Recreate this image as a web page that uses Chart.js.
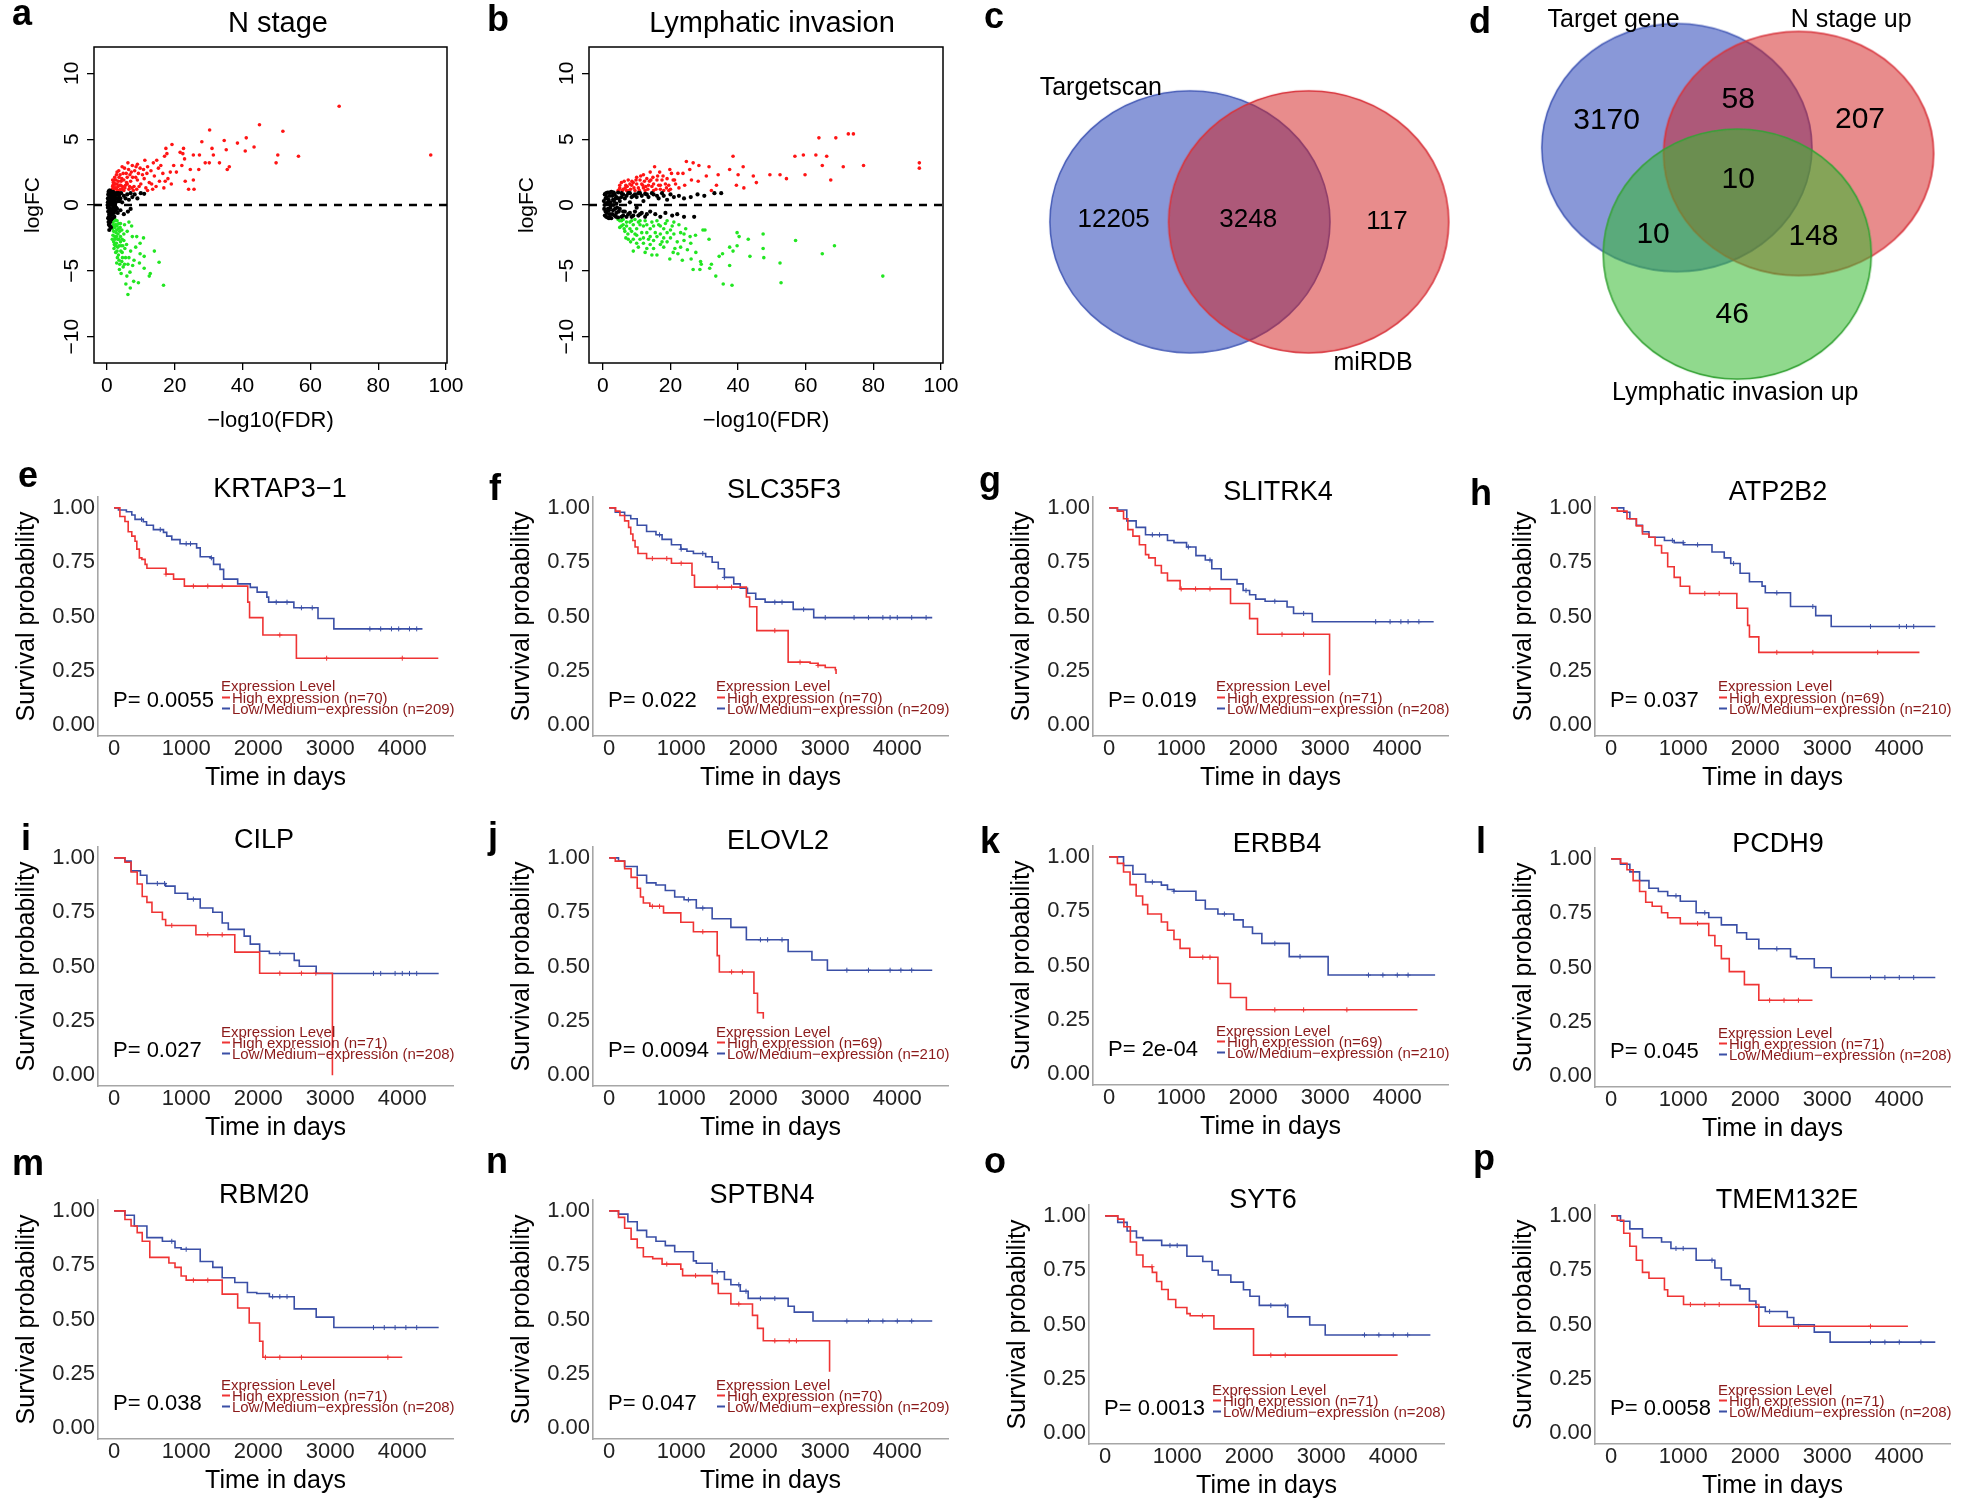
<!DOCTYPE html>
<html>
<head>
<meta charset="utf-8">
<script src="https://cdn.jsdelivr.net/npm/chart.js@4/dist/chart.umd.min.js"></script>
<style>
  body { margin: 0; background: #fff; }
  #fig { position: relative; width: 1961px; height: 1503px; overflow: hidden;
         font-family: "Liberation Sans", Arial, Helvetica, sans-serif; color: #000; }
  #fig canvas { position: absolute; }
  .lab { position: absolute; font-weight: bold; font-size: 36px; line-height: 36px; }
  .ttl { position: absolute; font-size: 27px; line-height: 27px; white-space: nowrap; transform: translate(-50%, -50%); }
  .vttl { position: absolute; font-size: 29px; line-height: 29px; white-space: nowrap; transform: translate(-50%, -50%); }
  .pv  { position: absolute; font-size: 22px; line-height: 22px; white-space: nowrap; transform: translateY(-50%); }
  .lg  { position: absolute; font-size: 15px; line-height: 15px; white-space: nowrap; color: #8b1a1a; transform: translateY(-50%); }
  .key { display: inline-block; width: 8px; height: 2px; margin-right: 2px; vertical-align: middle; position: relative; top: -1px; }
</style>
</head>
<body>
<div id="fig"></div>
<script>
// ---------- volcano data (x = -log10(FDR), y = logFC) ----------
const volTicksX = [0, 20, 40, 60, 80, 100];
const volTicksY = [-10, -5, 0, 5, 10];

const nStageUp = [[68.5,7.5],[95.5,3.8],[45,6.1],[51.9,5.6],[30.3,5.7],[56.5,3.7],[50.4,3.8],[49.9,3.2],[41.1,5.1],[40.8,4.1],
  [43.4,4.4],[38.5,4.7],[34.6,4.9],[35.2,4.2],[31,4.3],[31.4,3.8],[33.2,3.2],[36.1,2.9],[35.5,2.7],[28,4.8],[27.3,3.8],[29,3.2],
  [30.2,3.2],[27.1,2.7],[25.5,3.8],[24.6,2.7],[25.5,1.9],[24.1,1.2],[25.7,1.2],[22.6,4.3],[22.4,3.9],[22.9,3.5],[21.6,4],[22.1,3],
  [23.1,1.8],[19.2,4.6],[17.4,4.3],[17.7,3.9],[19.7,3],[18.7,2.5],[20.5,2.5],[17,3.7],[14.7,3.4],[15.9,3],[13.7,3.2],[15.2,2.8],
  [16.5,2.4],[18,2],[19,1.6],[14,2.2],[13,2.6],[12,2.9],[11.2,3.4],[10.5,2.3],[12.5,1.7],[14.5,1.4],[11.5,1.3],[9.8,2.8],[9,3.1],
  [8.2,2.6],[7.5,3],[6.8,2.3],[10,1.6],[9,1.9],[8,1.4],[7,1.8],[6,2.1],[5.5,1.5],[4.8,2.4],[4.2,1.8],[3.6,2.1],[3,1.6],[2.6,1.3],
  [2.2,1.9],[1.8,1.5],[1.6,1.2],[2,1.1],[3.2,1.1],[4,1.2],[5,1.1],[6.5,1.2],[7.8,1.1],[3.5,2.6],[5.2,2.8],[6.2,3.2],[2.8,2.3],
  [4.5,2.9],[8.5,2.1],[7.2,2.5],[11,2],[12,1.1],[13.5,1.2],[16.8,1.3],[2.4,1.6],[3.8,1.5],[5.8,1.7],[1.9,1.7],[4.6,1.4],
  [1.7,1.4],[2.1,1.3],[2.5,1.6],[2.9,1.2],[3.3,1.4],[3.7,1.1],[4.1,1.5],[4.5,1.2],[5.3,1.3],[6,1.6],[6.7,1.4],[7.4,1.3],[8.8,1.2],
  [9.5,1.4],[2.3,2.1],[3,2.5],[3.9,2.3],[4.4,2],[5,1.9],[5.7,2.4],[6.4,2.7],[7.6,2.1],[8.6,2.9],[9.3,2.4],[10.8,2.7],[11.8,2.4],
  [13.2,1.6],[15.5,1.8],[17.2,1.8],[1.7,1.9],[2.7,1.9],[3.4,1.8]];
const nStageDown = [[16.7,-6.1],[15.4,-4.35],[14,-3.5],[12.8,-5.2],[12.5,-5.4],[11,-4.8],[11,-3.9],[10.8,-2.5],[9.8,-2.9],[9.8,-3.7],
  [9.3,-5.9],[7.9,-5.8],[6.2,-6.8],[6.9,-6.3],[8.5,-3.2],[8,-4.2],[7.5,-2.4],[7,-3.5],[6.8,-5.1],[6.2,-4.5],[5.9,-5.4],[5.5,-4],
  [5.8,-3],[5,-2.2],[4.5,-3.6],[4.8,-4.7],[4.2,-5.2],[4,-2.8],[3.6,-4.2],[3.4,-1.8],[3.2,-3.2],[2.8,-2.4],[2.5,-1.5],[2.2,-3],
  [2,-2],[1.8,-1.3],[1.6,-2.6],[1.5,-1.1],[2.4,-1.1],[3,-1.2],[4,-1.4],[3.8,-2],[2.6,-3.6],[3.1,-4],[4.4,-1.9],[5.2,-1.5],[6,-2],
  [6.5,-1.3],[7.3,-1.6],[2,-2.8],[1.7,-1.8],[3.5,-2.6],[4.2,-3.1],[5.3,-3.3],[2.9,-1.9],[6.5,-4],[7.6,-4.6],[8.8,-2.4],[9.6,-4.4],
  [5.6,-6],[4.4,-4.3],[3.7,-4.9],[2.3,-2.4],
  [1.6,-1.1],[1.9,-1.5],[2.1,-1.2],[2.3,-1.7],[2.6,-1.2],[2.7,-2.1],[3,-1.6],[3.3,-2.2],[3.5,-1.4],[3.9,-1.7],[2.4,-2.6],
  [2.8,-2.9],[3.2,-2.6],[3.6,-3.1],[4,-2.4],[4.5,-2.6],[1.8,-2.3],[2.1,-3.3],[2.5,-3.1],[3,-3.5],[3.4,-3.8],[4.1,-3.5],[4.7,-3.1],
  [5,-2.7],[3.8,-4.5],[4.6,-4],[5.2,-4.5],[2.9,-4.4],[2,-1.6],[2.7,-1.5]];
const nStageNs = [[0.2,0],[0.3,0.5],[0.4,-0.5],[0.5,1],[0.5,-1],[0.6,-1.5],[0.8,0.2],[0.8,-0.3],[1,0.7],[1,-0.8],[1,-1.3],[1.2,0],
  [1.3,0.4],[1.4,-0.4],[1.5,0.9],[1.6,-1],[1.8,0.2],[1.9,-0.2],[2,0.6],[2.1,-0.6],[2.3,0.9],[2.4,0],[2.5,-0.4],[2.8,0.5],[3,0.8],
  [3,-0.3],[3.3,0.3],[3.6,0.7],[4,0.5],[4.2,0.9],[4.5,0.2],[5,0.7],[5.5,0.5],[6,0.8],[6.5,0.4],[7,0.9],[7.5,0.6],[8.2,0.8],[9,0.5],
  [10,0.9],[11,0.85],[3.2,-0.6],[4,-0.4],[5,-0.7],[6.2,-0.5],[7,-0.3],[1.2,-1.7],[0.9,1.1],[0.3,-0.2],[0.7,0.6],[1.7,0.5],[2.2,0.3],
  [0.6,-0.9],[1.1,0.3],
  [0.4,0.8],[0.5,0.3],[0.6,-0.2],[0.7,-0.7],[0.8,-1.2],[0.9,0.9],[1.1,-0.5],[1.2,0.6],[1.3,-1.1],[1.4,0.1],[1.5,-0.7],[1.6,0.7],
  [1.7,-0.3],[1.8,1],[2,-0.1],[2.1,0.4],[2.2,-0.9],[2.4,0.7],[2.6,0.2],[2.7,-0.2],[2.9,0.9],[3.1,0.5],[3.4,0.9],[3.8,0.3],[0.3,0.2],
  [0.4,-1],[0.5,-1.3],[0.7,1.1],[1,1],[0.9,-1.6],[0.7,-1.9]];

const lymphUp = [[74.1,5.4],[72.6,5.4],[63.9,5.1],[68.9,5.1],[59.3,3.8],[56.8,3.7],[63,3.8],[66.2,3.7],[93.6,3.2],[93.6,2.8],[77.1,3],
  [71.1,2.9],[64.9,3],[59.8,2.3],[67.4,1.9],[54.3,2],[52.4,2.3],[49.4,2.3],[38.5,3.7],[44.5,2.2],[45.4,1.7],[41.5,2.9],[40,2.3],
  [37.5,2.7],[39.5,1.5],[41.7,1.3],[34.1,2.3],[33.6,1.5],[31.4,2.9],[30.6,2.2],[32.1,1.1],[28.4,3],[26.7,3.2],[24.7,3.3],[25.7,2.7],
  [23.7,2.4],[26.2,1.9],[24.2,1.5],[28.2,1.8],[19.8,2.7],[20.3,2.4],[22.2,2.4],[21.2,1.9],[15.3,2.9],[16.8,2.5],[17.8,2.2],[18.5,1.6],
  [20,1.2],[22.5,1.3],[16,1.9],[14.5,1.4],[13,2],[12,2.3],[11.5,1.6],[10.5,1.3],[10,2.1],[9,1.7],[8.2,1.2],[7.5,1.9],[6.8,1.5],
  [6,1.2],[5.5,1.7],[5,1.3],[4.5,1.1],[7,1.1],[9.5,1.1],[12.5,1.1],[15,1.1],[17,1.2],[13.8,1.8],[11,1.9],[8.5,1.5],[19,2],[16.5,1.5],
  [18,1.1],[21.5,1.6],[14,2.5],[12.7,1.4],
  [5,1.5],[5.8,1.1],[6.3,1.8],[7.2,1.4],[7.8,1.1],[8.6,1.8],[9.2,1.3],[10,1.6],[10.8,1.1],[11.2,2.2],[12,1.3],[12.3,1.8],[13.3,1.2],
  [13.5,1.5],[14.2,1.9],[15,1.6],[15.7,1.2],[16.2,2.2],[17,1.5],[17.5,1.9],[18.8,1.3],[19.5,1.5],[20.8,1.9],[9.8,1.9],[8,1.6],
  [6.6,1.3],[11.8,1.5],[14.8,2.1],[4.8,1.15],[19.5,1.1]];
const lymphDown = [[82.8,-5.4],[52.7,-5.9],[52.4,-4.4],[68.5,-3.1],[64.9,-3.7],[57,-2.7],[47.4,-2.2],[47.4,-3.3],[47.6,-4],[43.5,-3.9],
  [43,-2.6],[39.7,-2.1],[40.3,-2.4],[39.7,-3.1],[38.5,-3.5],[37.5,-3.2],[38.2,-6.1],[35.6,-6],[37.5,-4.6],[35.4,-3.7],[34.4,-3.9],
  [33.4,-5.4],[32.1,-4.5],[31.6,-4.8],[31.4,-2.6],[30.2,-1.9],[29.1,-4.5],[28.9,-4.3],[28.7,-4.9],[26.7,-4.9],[26.1,-4.1],[29.6,-1.9],
  [27.4,-2.3],[22.2,-3.7],[19.8,-4.1],[21.3,-3.3],[24,-2.7],[25,-3.4],[23,-2.1],[26,-2.9],[27.5,-3.6],[20,-2.5],[18,-3.2],[17,-2.2],
  [16,-3.8],[15,-2.7],[14,-1.8],[13,-3.3],[12,-2.5],[11,-1.5],[10,-2.9],[9.5,-2.2],[9,-3.5],[8,-1.8],[7.5,-2.6],[7,-1.3],[6.5,-2],
  [6,-1.5],[5.5,-1.2],[5,-1.7],[4.5,-1.1],[8.5,-1.2],[10.5,-1.3],[12.5,-1.2],[14.5,-1.3],[16.5,-1.5],[18.5,-1.4],[20.5,-1.6],
  [22.5,-1.5],[24.5,-1.8],[19,-2.1],[15.5,-2.1],[11.5,-2.1],[13.5,-2.6],[17.5,-2.8],[20.8,-3.6],[23.5,-4.2],[25.8,-2.4],
  [5,-1.2],[5.5,-1.6],[6,-1.1],[6.3,-1.8],[7,-1.6],[7.4,-2.2],[8,-1.3],[8.5,-2],[9,-1.5],[9,-2.6],[10,-1.8],[10,-2.3],[11,-2.6],
  [11,-1.2],[12,-1.6],[12,-2.9],[13,-1.5],[13,-2.1],[14,-2.4],[14,-3],[15,-1.6],[15,-3.3],[16,-2.4],[16,-1.2],[17,-1.6],[17,-3],
  [18,-1.8],[18,-2.5],[19,-2.8],[19,-1.2],[20,-1.9],[21,-2.2],[22,-2.8],[23,-3.2],[21,-1.3],[24,-2.2],[6.8,-2.5],[8.2,-2.8],
  [10.5,-3.2],[12.5,-3.6],[14.5,-3.8],[9.5,-1.1]];
const lymphNs = [[0.5,0],[0.8,0.5],[0.8,-0.5],[1,0.9],[1,-0.9],[1.5,0.2],[1.5,-0.3],[2,0.7],[2,-0.7],[2.5,0],[2.5,1],[2.5,-1],[3,0.4],
  [3,-0.4],[3.5,0.8],[3.5,-0.8],[4,0.1],[4,0.6],[4,-0.6],[4.5,0.95],[4.5,-0.95],[5,0.3],[5,-0.3],[6,0.8],[6,-0.8],[6.5,0.5],[6.5,-0.5],
  [7.5,0.9],[7.5,-0.7],[8.5,0.6],[8.5,-0.9],[9.5,0.8],[9.5,-0.5],[10.5,0.9],[10.5,-0.8],[11.5,0.7],[11.5,-0.6],[12.5,0.85],[12.5,-0.9],
  [13.5,0.6],[14,-0.5],[15,0.8],[15.5,-0.7],[16.5,0.5],[17,-0.9],[18,0.7],[19,0.4],[20,0.8],[21,0.6],[22.5,0.7],[24,0.5],[26,0.6],
  [28,0.8],[30,0.7],[33,0.9],[35,0.9],[27,-0.9],[18.5,-0.6],[20.5,-0.8],[22,-0.7],[24,-0.9],[12,0.3],[10,-0.2],[8,0.2],[3.2,0.95],
  [1.8,-1],[0.6,0.8],
  [0.3,0.3],[0.4,-0.3],[0.6,0.8],[0.6,-0.8],[0.9,0.1],[1.2,0.6],[1.2,-0.6],[1.4,0.95],[1.4,-0.95],[1.7,0.4],[1.8,-0.4],[2.2,0.2],
  [2.2,-0.2],[2.8,0.7],[2.8,-0.7],[3.2,0],[3.3,0.3],[3.6,-0.3],[3.8,0.5],[4.2,-0.2],[4.7,0.5],[4.7,-0.5],[5.5,0.9],[5.5,-0.9],
  [5.5,0.6],[6,-0.5],[7,0.7],[7,-0.9],[8,0.9],[8,-0.6],[9,0.7],[9,-0.8],[10,0.6],[11,0.9],[11,-0.7],[13,0.8],[13,-0.7],[14.5,0.9],
  [16,0.7],[17.5,0.9],[1.9,0.95],[1.9,-0.95],[3,0.95],[3.9,-0.9]];

// ---------- Venn data ----------
const vennSetsC = ['Targetscan', 'miRDB'];
const vennCountsC = [12205, 3248, 117];
const vennSetsD = ['Target gene', 'N stage up', 'Lymphatic invasion up'];
const vennCountsD = [3170, 58, 207, 10, 10, 148, 46];

// ---------- survival data: [days, survival] ----------
const kmTicksX = [0, 1000, 2000, 3000, 4000];
const kmTicksY = [0, 0.25, 0.5, 0.75, 1];
const genes = ['KRTAP3−1', 'SLC35F3', 'SLITRK4', 'ATP2B2', 'CILP', 'ELOVL2', 'ERBB4', 'PCDH9', 'RBM20', 'SPTBN4', 'SYT6', 'TMEM132E'];
const pValues = ['0.0055', '0.022', '0.019', '0.037', '0.027', '0.0094', '2e-04', '0.045', '0.038', '0.047', '0.0013', '0.0058'];
const nHigh = [70, 70, 71, 69, 71, 69, 69, 71, 71, 70, 71, 71];
const nLow  = [209, 209, 208, 210, 208, 210, 210, 208, 208, 209, 208, 208];

const eHigh = [[0,1],[80,0.96],[150,0.937],[195,0.89],[245,0.87],[290,0.846],[315,0.81],[350,0.77],[385,0.763],[430,0.74],[455,0.722],[720,0.695],[825,0.672],[975,0.64],[1855,0.566],[1880,0.495],[2065,0.415],[2530,0.308],[4500,0.308]];
const eLow  = [[0,1],[60,0.99],[170,0.982],[245,0.967],[290,0.947],[405,0.936],[450,0.92],[545,0.9],[685,0.887],[730,0.87],[800,0.854],[915,0.835],[1145,0.816],[1195,0.775],[1335,0.77],[1380,0.74],[1470,0.717],[1520,0.672],[1715,0.65],[1890,0.634],[1985,0.612],[2120,0.589],[2145,0.566],[2495,0.54],[2830,0.491],[3050,0.443],[4280,0.443]];
const fHigh = [[0,1],[90,0.985],[150,0.965],[215,0.94],[270,0.91],[300,0.88],[330,0.85],[360,0.82],[400,0.79],[520,0.767],[865,0.745],[1150,0.69],[1185,0.635],[1905,0.59],[1950,0.545],[2050,0.435],[2485,0.29],[2790,0.285],[2900,0.275],[3000,0.265],[3140,0.255],[3150,0.235]];
const fLow  = [[0,1],[85,0.98],[215,0.965],[300,0.95],[390,0.92],[520,0.891],[650,0.876],[735,0.855],[865,0.83],[995,0.81],[1080,0.8],[1170,0.79],[1340,0.775],[1430,0.75],[1515,0.72],[1600,0.68],[1730,0.65],[1820,0.63],[1920,0.607],[2035,0.58],[2165,0.566],[2555,0.533],[2840,0.495],[4485,0.495]];
const gHigh = [[0,1],[115,0.985],[200,0.95],[260,0.9],[330,0.87],[420,0.83],[505,0.785],[550,0.77],[640,0.735],[725,0.7],[810,0.665],[985,0.627],[1685,0.56],[1950,0.49],[2060,0.418],[3055,0.418],[3060,0.23]];
const gLow  = [[0,1],[115,0.99],[245,0.94],[375,0.91],[505,0.876],[810,0.85],[900,0.84],[1075,0.82],[1205,0.78],[1335,0.76],[1425,0.72],[1555,0.67],[1775,0.65],[1860,0.62],[1950,0.6],[2035,0.58],[2165,0.57],[2470,0.544],[2560,0.514],[2820,0.476],[4505,0.476]];
const hHigh = [[0,1],[85,0.985],[220,0.95],[350,0.917],[435,0.88],[525,0.865],[610,0.827],[700,0.792],[785,0.729],[875,0.68],[960,0.639],[1090,0.606],[1745,0.538],[1895,0.459],[1920,0.406],[2050,0.335],[4280,0.335]];
const hLow  = [[0,1],[175,0.98],[260,0.95],[350,0.92],[435,0.89],[525,0.865],[740,0.85],[875,0.84],[1005,0.83],[1400,0.797],[1570,0.77],[1660,0.744],[1790,0.699],[1920,0.66],[2095,0.64],[2140,0.609],[2490,0.546],[2840,0.504],[3055,0.454],[4500,0.454]];
const iHigh = [[0,1],[150,0.98],[235,0.935],[320,0.88],[390,0.822],[455,0.795],[525,0.75],[670,0.716],[715,0.689],[1135,0.646],[1675,0.566],[2020,0.469],[3025,0.469],[3030,0]];
const iLow  = [[0,1],[150,0.985],[235,0.94],[365,0.92],[455,0.882],[715,0.87],[845,0.837],[1020,0.81],[1195,0.769],[1370,0.75],[1500,0.7],[1585,0.671],[1805,0.64],[1890,0.603],[2020,0.57],[2155,0.56],[2500,0.528],[2570,0.501],[2805,0.468],[4505,0.468]];
const jHigh = [[0,1],[85,0.985],[215,0.95],[305,0.91],[390,0.86],[435,0.82],[475,0.792],[565,0.777],[755,0.747],[995,0.704],[1170,0.66],[1500,0.55],[1530,0.475],[2010,0.377],[2060,0.287],[2140,0.26]];
const jLow  = [[0,1],[130,0.985],[215,0.96],[390,0.92],[520,0.885],[650,0.875],[780,0.85],[910,0.82],[1040,0.807],[1210,0.769],[1430,0.72],[1690,0.68],[1905,0.623],[2485,0.569],[2815,0.53],[3030,0.483],[4485,0.483]];
const kHigh = [[0,1],[115,0.97],[200,0.93],[290,0.872],[375,0.82],[465,0.78],[535,0.737],[725,0.7],[810,0.662],[900,0.62],[985,0.579],[1120,0.538],[1510,0.417],[1685,0.353],[1905,0.296],[4280,0.296]];
const kLow  = [[0,1],[200,0.96],[330,0.92],[505,0.884],[725,0.87],[810,0.85],[900,0.842],[1205,0.8],[1335,0.76],[1510,0.737],[1730,0.71],[1860,0.677],[1990,0.647],[2120,0.602],[2500,0.541],[3040,0.456],[4525,0.456]];
const lHigh = [[0,1],[130,0.98],[220,0.95],[305,0.9],[395,0.85],[480,0.8],[570,0.782],[700,0.752],[785,0.729],[960,0.702],[1355,0.647],[1440,0.6],[1530,0.541],[1640,0.481],[1850,0.421],[2050,0.349],[2795,0.349]];
const lLow  = [[0,1],[130,0.975],[260,0.94],[395,0.9],[525,0.865],[655,0.85],[785,0.83],[960,0.805],[1180,0.752],[1355,0.73],[1530,0.696],[1745,0.66],[1880,0.63],[2050,0.586],[2490,0.55],[2575,0.54],[2820,0.499],[3055,0.454],[4500,0.454]];
const mHigh = [[0,1],[150,0.96],[235,0.93],[320,0.9],[390,0.86],[495,0.786],[760,0.76],[845,0.74],[930,0.7],[1000,0.681],[1500,0.617],[1715,0.553],[1875,0.484],[2020,0.4],[2065,0.326],[4000,0.326]];
const mLow  = [[0,1],[150,0.98],[280,0.93],[455,0.877],[670,0.86],[845,0.83],[930,0.823],[1195,0.767],[1370,0.74],[1500,0.692],[1675,0.67],[1850,0.624],[1980,0.62],[2155,0.605],[2500,0.549],[2805,0.511],[3050,0.463],[4505,0.463]];
const nHighCurve = [[0,1],[130,0.97],[215,0.92],[305,0.87],[390,0.83],[475,0.789],[605,0.78],[735,0.755],[995,0.732],[1020,0.702],[1430,0.665],[1515,0.62],[1690,0.571],[1990,0.519],[2060,0.459],[2140,0.402],[3055,0.402],[3060,0.26]];
const nLowCurve  = [[0,1],[130,0.985],[260,0.95],[390,0.91],[520,0.88],[650,0.86],[780,0.84],[910,0.812],[1170,0.77],[1210,0.759],[1430,0.72],[1600,0.684],[1690,0.66],[1820,0.63],[1930,0.597],[2485,0.561],[2570,0.534],[2830,0.493],[4485,0.493]];
const oHigh = [[0,1],[175,0.985],[260,0.95],[350,0.88],[435,0.82],[525,0.766],[655,0.74],[715,0.698],[785,0.661],[875,0.615],[980,0.578],[1135,0.55],[1180,0.54],[1510,0.48],[2060,0.359],[4060,0.359]];
const oLow  = [[0,1],[175,0.97],[305,0.93],[435,0.9],[525,0.887],[785,0.864],[1135,0.814],[1355,0.79],[1485,0.75],[1570,0.728],[1745,0.695],[1920,0.66],[2010,0.63],[2140,0.588],[2535,0.535],[2840,0.498],[3055,0.452],[4515,0.452]];
const pHigh = [[0,1],[85,0.98],[175,0.92],[260,0.86],[350,0.796],[435,0.74],[525,0.713],[740,0.66],[785,0.63],[1005,0.592],[2050,0.492],[4120,0.492]];
const pLow  = [[0,1],[130,0.975],[260,0.94],[435,0.899],[700,0.88],[830,0.85],[1180,0.796],[1440,0.76],[1530,0.706],[1660,0.68],[1790,0.664],[1920,0.608],[2010,0.58],[2140,0.56],[2445,0.532],[2535,0.499],[2820,0.465],[3040,0.419],[4500,0.419]];

// censoring times (days)
const censHigh = [
  [720,1100,1300,1500,2300,2950,4000], [600,800,1000,1500,1700,2300,2650,2900], [1000,1200,1400,2400,2700],
  [1300,1500,2300,2800,3700], [800,1300,1500,2300,2600,2800], [600,700,1300,1700,1850], [1300,1400,2300,2700,3300],
  [1200,2200,2400,2600], [1100,1300,2100,2300,2600,3800], [800,1200,1800,2300,2500,2600], [650,1350,2300,2500],
  [1100,1300,1500,2600,3600]];
const censLow = [
  [380,640,1000,1060,1350,2250,2400,2600,2750,3550,3700,3850,3950,4100,4200],
  [700,1000,1300,1600,2300,2400,2700,3000,3400,3600,3800,3900,4000,4200,4400],
  [600,700,1100,1400,1900,2300,2700,3700,3900,4050,4150,4300], [850,1000,1200,1700,2300,2800,3600,4000,4100,4200],
  [600,700,1100,2300,3600,3700,3900,4000,4100,4200], [1100,1300,2100,2200,2400,3300,3600,3900,4050,4200],
  [600,900,1600,2300,2650,3600,3800,4000,4150], [900,1300,2300,3600,3800,4000,4200],
  [800,1000,2200,2300,2400,3600,3750,3900,4050,4200], [1500,1800,1900,2100,2300,3300,3600,3800,4000,4200],
  [900,1000,2300,2500,3600,3800,4000,4200], [900,1000,1400,2200,3600,3800,4000,4300]];

const kmHigh = [eHigh, fHigh, gHigh, hHigh, iHigh, jHigh, kHigh, lHigh, mHigh, nHighCurve, oHigh, pHigh];
const kmLow  = [eLow, fLow, gLow, hLow, iLow, jLow, kLow, lLow, mLow, nLowCurve, oLow, pLow];

// ---------- layout ----------
const FONT = '"Liberation Sans", Arial, Helvetica, sans-serif';
const RED = '#ef3434', BLUE = '#3a4fa6', AXIS = '#a6a6a6';
Chart.defaults.font.family = FONT;
Chart.defaults.color = '#000';
const fig = document.getElementById('fig');

// plot-area top-left of each survival panel
const kmPos = [[98,493],[593,493],[1093,493],[1595,493],[98,843],[593,843],[1093,842],[1595,844],[98,1196],[593,1196],[1089,1201],[1595,1201]];
const kmTitleX = [280, 784, 1278, 1778, 264, 778, 1277, 1778, 264, 762, 1263, 1787];
const kmTitleY = [488, 489, 491, 491, 839, 840, 843, 843, 1194, 1194, 1199, 1199];
const KM_W = 355, KM_H = 243;

// panel letters: [text, left, baseline]
const letters = [['a',12,25],['b',487,31],['c',984,28],['d',1469,33],['e',18,487],['f',489,500],['g',979,492],['h',1470,505],
  ['i',21,850],['j',488,848],['k',980,853],['l',1476,853],['m',12,1175],['n',486,1173],['o',984,1173],['p',1473,1170]];

function addDiv(cls, html, left, top) {
  const d = document.createElement('div');
  d.className = cls;
  d.innerHTML = html;
  d.style.left = left + 'px';
  d.style.top = top + 'px';
  fig.appendChild(d);
  return d;
}
function addCanvas(left, top, w, h) {
  const cv = document.createElement('canvas');
  cv.width = w; cv.height = h;
  cv.style.left = left + 'px'; cv.style.top = top + 'px';
  cv.style.width = w + 'px'; cv.style.height = h + 'px';
  fig.appendChild(cv);
  return cv;
}
const pts = arr => arr.map(([x, y]) => ({x, y}));
const minus = v => (v < 0 ? '−' + Math.abs(v) : String(v));

//  Volcano plots
const volFrame = {
  id: 'volFrame',
  afterDatasetsDraw(chart) {
    const {ctx, chartArea: a, scales: {y}} = chart;
    ctx.save();
    ctx.strokeStyle = '#000';
    ctx.setLineDash([8, 7]);
    ctx.lineWidth = 2.4;
    const y0 = y.getPixelForValue(0);
    ctx.beginPath(); ctx.moveTo(a.left, y0); ctx.lineTo(a.right, y0); ctx.stroke();
    ctx.setLineDash([]);
    ctx.lineWidth = 1.5;
    ctx.strokeRect(a.left, a.top, a.right - a.left, a.bottom - a.top);
    ctx.fillStyle = '#000';
    ctx.font = '21px ' + FONT;
    ctx.textAlign = 'center';
    ctx.textBaseline = 'middle';
    volTicksY.forEach(v => {
      ctx.save();
      ctx.translate(a.left - 22, y.getPixelForValue(v));
      ctx.rotate(-Math.PI / 2);
      ctx.fillText(minus(v), 0, 0);
      ctx.restore();
    });
    ctx.restore();
  }
};

function makeVolcano(o) {
  const cv = addCanvas(o.left, 0, 490, 440);
  const tickGrid = {display: true, drawOnChartArea: false, drawTicks: true, tickLength: 7, color: '#000', lineWidth: 1.3};
  new Chart(cv, {
    type: 'scatter',
    data: {
      // first dataset is drawn last (on top)
      datasets: [
        {data: pts(o.ns),   pointRadius: 2.1, backgroundColor: '#000',    borderWidth: 0},
        {data: pts(o.up),   pointRadius: 1.8, backgroundColor: '#ff1414', borderWidth: 0},
        {data: pts(o.down), pointRadius: 1.8, backgroundColor: '#22e622', borderWidth: 0},
      ]
    },
    options: {
      responsive: false, animation: false, devicePixelRatio: 1, events: [],
      layout: {padding: {left: 0, top: 47, right: 490 - o.plotR, bottom: 0}},
      plugins: {legend: {display: false}, tooltip: {enabled: false}},
      scales: {
        x: {
          type: 'linear', min: o.xmin, max: o.xmax,
          afterBuildTicks: s => { s.ticks = volTicksX.map(v => ({value: v})); },
          afterFit: s => { s.height = 440 - 363; },
          border: {display: false}, grid: tickGrid,
          ticks: {font: {size: 21, lineHeight: 1}, color: '#000', padding: 6, maxRotation: 0, autoSkip: false,
                  callback: v => String(v)},
          title: {display: true, text: '−log10(FDR)', font: {size: 22, lineHeight: 1}, color: '#000', padding: {top: 0, bottom: 8}}
        },
        y: {
          type: 'linear', min: -12, max: 12,
          afterBuildTicks: s => { s.ticks = volTicksY.map(v => ({value: v})); },
          afterFit: s => { s.width = o.plotL; },
          border: {display: false}, grid: tickGrid,
          ticks: {display: false},
          title: {display: true, text: 'logFC', font: {size: 21, lineHeight: 1}, color: '#000', padding: {top: o.yTitleX - 10.5, bottom: 0}}
        }
      }
    },
    plugins: [volFrame]
  });
  addDiv('vttl', o.title, o.titleX, 22);
}

makeVolcano({left: 0, plotL: 94, plotR: 447, xmin: -3.8, xmax: 100.3, yTitleX: 33, titleX: 278,
             title: 'N stage', ns: nStageNs, up: nStageUp, down: nStageDown});
makeVolcano({left: 490, plotL: 99, plotR: 453, xmin: -4.1, xmax: 100.6, yTitleX: 37, titleX: 772,
             title: 'Lymphatic invasion', ns: lymphNs, up: lymphUp, down: lymphDown});

//  Venn diagrams (coordinates of the venn canvas)
function ellipseStyle(rx, ry, fill, stroke) {
  const c = document.createElement('canvas');
  c.width = Math.ceil(2 * rx + 4); c.height = Math.ceil(2 * ry + 4);
  const g = c.getContext('2d');
  g.beginPath();
  g.ellipse(c.width / 2, c.height / 2, rx, ry, 0, 0, 2 * Math.PI);
  g.fillStyle = fill; g.fill();
  g.lineWidth = 1.6; g.strokeStyle = stroke; g.stroke();
  return c;
}
const BLUE_F = 'rgba(58,84,190,0.6)', RED_F = 'rgba(209,25,25,0.5)', GREEN_F = 'rgba(52,186,48,0.55)';
// listed in painting order (bottom first)
const vennCircles = [
  {c: [207, 222], r: [140, 131], fill: BLUE_F, line: '#4a5fb8'},
  {c: [327, 222], r: [140, 131], fill: RED_F,  line: '#d8363e'},
  {c: [699, 146], r: [135, 124], fill: BLUE_F, line: '#4a5fb8'},
  {c: [822, 152], r: [135, 122], fill: RED_F,  line: '#d8363e'},
  {c: [760, 255], r: [134, 125], fill: GREEN_F, line: '#36a336'},
];
const vennLabels = [
  [vennSetsC[0], 117, 85, 25], [vennSetsC[1], 392, 367, 25],
  [String(vennCountsC[0]), 130, 220, 26], [String(vennCountsC[1]), 266, 220, 26], [String(vennCountsC[2]), 406, 222, 26],
  [vennSetsD[0], 635, 15, 25], [vennSetsD[1], 875, 15, 25], [vennSetsD[2], 758, 397, 25],
  [String(vennCountsD[0]), 628, 118, 30], [String(vennCountsD[1]), 761, 97, 30], [String(vennCountsD[2]), 884, 117, 30],
  [String(vennCountsD[3]), 761, 179, 30], [String(vennCountsD[4]), 675, 235, 30], [String(vennCountsD[5]), 837, 237, 30],
  [String(vennCountsD[6]), 755, 317, 30],
];
const vennText = {
  id: 'vennText',
  afterDatasetsDraw(chart) {
    const {ctx, scales: {x, y}} = chart;
    ctx.save();
    ctx.fillStyle = '#000';
    ctx.textAlign = 'center';
    ctx.textBaseline = 'middle';
    vennLabels.forEach(([t, vx, vy, fs]) => {
      ctx.font = fs + 'px ' + FONT;
      ctx.fillText(t, x.getPixelForValue(vx), y.getPixelForValue(vy));
    });
    ctx.restore();
  }
};
(function makeVenn() {
  const cv = addCanvas(980, 0, 981, 430);
  // Chart.js paints dataset 0 last, so reverse to keep the painting order
  const sets = vennCircles.slice().reverse();
  new Chart(cv, {
    type: 'scatter',
    data: {
      datasets: sets.map(v => ({
        data: [{x: v.c[0], y: v.c[1]}],
        pointStyle: ellipseStyle(v.r[0], v.r[1], v.fill, v.line),
        pointRadius: 3, clip: false
      }))
    },
    options: {
      responsive: false, animation: false, devicePixelRatio: 1, events: [],
      layout: {padding: 0},
      plugins: {legend: {display: false}, tooltip: {enabled: false}},
      scales: {
        x: {type: 'linear', display: false, min: 0, max: 981},
        y: {type: 'linear', display: false, min: 0, max: 430, reverse: true}
      }
    },
    plugins: [vennText]
  });
})();

//  Kaplan-Meier panels
function survAt(curve, t) {
  let s = curve[0][1];
  for (const [ti, si] of curve) { if (ti <= t) s = si; else break; }
  return s;
}

function makeKM(i) {
  const [pl, pt] = kmPos[i];
  const W = 98 + KM_W + 10, H = 10 + KM_H + 70;
  const cv = addCanvas(pl - 98, pt - 10, W, H);
  const hi = kmHigh[i], lo = kmLow[i];
  const tickFont = {size: 22, lineHeight: 1};
  new Chart(cv, {
    type: 'line',
    data: {
      datasets: [
        {data: pts(hi), stepped: true, borderColor: RED, borderWidth: 1.6, pointRadius: 0, fill: false},
        {data: pts(lo), stepped: true, borderColor: BLUE, borderWidth: 1.6, pointRadius: 0, fill: false},
        {data: censHigh[i].map(t => ({x: t, y: survAt(hi, t)})), showLine: false, pointStyle: 'cross',
         pointRadius: 2.5, borderColor: RED, borderWidth: 1},
        {data: censLow[i].map(t => ({x: t, y: survAt(lo, t)})), showLine: false, pointStyle: 'cross',
         pointRadius: 2.5, borderColor: BLUE, borderWidth: 1},
      ]
    },
    options: {
      responsive: false, animation: false, devicePixelRatio: 1, events: [],
      layout: {padding: {top: 10, right: 10, bottom: 0, left: 0}},
      plugins: {legend: {display: false}, tooltip: {enabled: false}},
      scales: {
        x: {
          type: 'linear', min: -224, max: 4704,
          afterBuildTicks: s => { s.ticks = kmTicksX.map(v => ({value: v})); },
          afterFit: s => { s.height = 70; },
          grid: {display: false, drawTicks: false},
          border: {display: true, color: AXIS, width: 1.6},
          ticks: {font: tickFont, color: '#222', padding: 2, maxRotation: 0, autoSkip: false, callback: v => String(v)},
          title: {display: true, text: 'Time in days', font: {size: 25, lineHeight: 1}, color: '#000', padding: {top: 0, bottom: 15}}
        },
        y: {
          type: 'linear', min: -0.05, max: 1.05,
          afterBuildTicks: s => { s.ticks = kmTicksY.map(v => ({value: v})); },
          afterFit: s => { s.width = 98; },
          grid: {display: false, drawTicks: false},
          border: {display: true, color: AXIS, width: 1.6},
          ticks: {font: tickFont, color: '#222', padding: 3, callback: v => v.toFixed(2)},
          title: {display: true, text: 'Survival probability', font: {size: 25, lineHeight: 1}, color: '#000', padding: {top: 15, bottom: 0}}
        }
      }
    }
  });

  const bottom = pt + KM_H;
  const row = Math.floor(i / 4);
  const lgOff = row === 0 ? [51, 39, 28] : [55, 44, 33];
  addDiv('ttl', genes[i], kmTitleX[i], kmTitleY[i]);
  addDiv('pv', 'P= ' + pValues[i], pl + 15, bottom - 36);
  addDiv('lg', 'Expression Level', pl + 123, bottom - lgOff[0]);
  addDiv('lg', '<span class="key" style="background:' + RED + '"></span>High expression (n=' + nHigh[i] + ')', pl + 124, bottom - lgOff[1]);
  addDiv('lg', '<span class="key" style="background:' + BLUE + '"></span>Low/Medium−expression (n=' + nLow[i] + ')', pl + 124, bottom - lgOff[2]);
}

for (let i = 0; i < 12; i++) makeKM(i);

letters.forEach(([t, x, base]) => addDiv('lab', t, x, base - 30));
</script>
</body>
</html>
